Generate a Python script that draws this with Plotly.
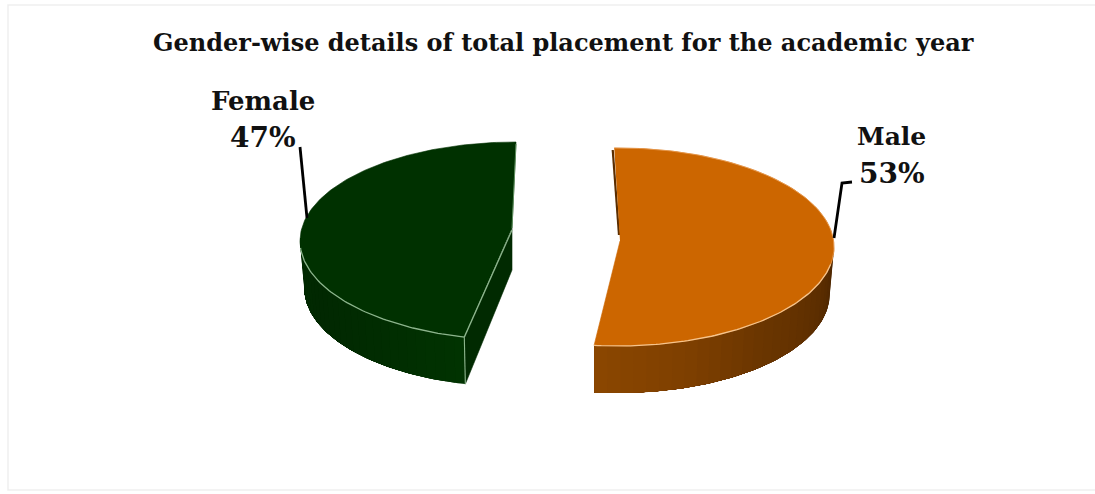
import numpy as np
import plotly.graph_objects as go

# --- data -------------------------------------------------------------
categories = ["Male", "Female"]
shares = [53, 47]
title_text = "Gender-wise details of total placement for the academic year"

# --- geometry / style -------------------------------------------------
W, H = 1095, 494
RX, RY, DEPTH = 216.0, 99.0, 47.0
BOTTOM_RX_SCALE = 0.98      # lower rim is a little narrower (perspective)
SPAN_SCALE = 0.982          # reference's perspective slightly shrinks the spans
SERIF = "DejaVu Serif"

male_center = (618.0, 247.0)
male_apex = (620.0, 241.0)
female_center = (516.0, 241.0)
female_apex = (512.0, 228.0)

male_top = "#CC6600"
male_edge = "#F6C48C"
female_top = "#003100"
female_edge = "#8DB58D"

fig = go.Figure()


def ell(center, t_deg, dy=0.0, sx=1.0):
    t = np.radians(np.asarray(t_deg, dtype=float))
    return center[0] + RX * sx * np.sin(t), center[1] - RY * np.cos(t) + dy


def poly(x, y, color, lw=0.6):
    fig.add_trace(go.Scatter(
        x=list(x), y=list(y), mode="lines", fill="toself", fillcolor=color,
        line=dict(color=color, width=lw), hoverinfo="skip", showlegend=False))


def line(x, y, color, width):
    fig.add_trace(go.Scatter(
        x=list(x), y=list(y), mode="lines", line=dict(color=color, width=width),
        hoverinfo="skip", showlegend=False))


def mix(c1, c2, f):
    a = [int(c1[i:i + 2], 16) for i in (1, 3, 5)]
    b = [int(c2[i:i + 2], 16) for i in (1, 3, 5)]
    return "#%02x%02x%02x" % tuple(int(round(p + (q - p) * f)) for p, q in zip(a, b))


def wall(center, t0, t1, stops, steps=28):
    # each band runs to the far end of the wall, so later bands overlap it and no seams show
    edges = np.linspace(t0, t1, steps + 1)
    for i in range(steps):
        ts = np.linspace(edges[i], t1, max(6, (steps - i) * 4))
        x, y = ell(center, ts)
        xb, yb = ell(center, ts, DEPTH, BOTTOM_RX_SCALE)
        f = i / (steps - 1) * (len(stops) - 1)
        k = min(int(f), len(stops) - 2)
        col = mix(stops[k], stops[k + 1], f - k)
        poly(np.r_[x, xb[::-1]], np.r_[y, yb[::-1]], col, lw=0)


# --- slice angles come from the values --------------------------------
male_span = shares[0] / sum(shares) * 360 * SPAN_SCALE
female_span = shares[1] / sum(shares) * 360 * SPAN_SCALE
male_t0 = -1.0
male_t1 = male_t0 + male_span
female_t1 = 360.0
female_t0 = female_t1 - female_span

# frame
fig.add_shape(type="rect", x0=8, x1=1096, y0=5, y1=490,
              line=dict(color="#EFEFEF", width=1.5), fillcolor="white", layer="below")

# --- Male slice -------------------------------------------------------
wall(male_center, 88, male_t1, ["#4A2500", "#5E2F00", "#6A3500", "#7E3F00", "#8A4600"])
mx, my = ell(male_center, np.linspace(male_t0, male_t1, 160))
# narrow back wall behind the cut edge
line([mx[0] - 1.5, male_apex[0] - 1], [my[0] + 2, male_apex[1] - 6], "#5A2D00", 2.2)
poly(np.r_[mx, male_apex[0]], np.r_[my, male_apex[1]], male_top)
fx, fy = ell(male_center, np.linspace(100, male_t1, 90))
line(fx, fy, male_edge, 1.3)
ox, oy = ell(male_center, np.linspace(male_t0, 100, 80))
line(ox, oy, "#E89A50", 0.8)

# --- Female slice -----------------------------------------------------
wall(female_center, female_t0, 272, ["#013301", "#012C01", "#012801", "#012A01"])
fex, fey = ell(female_center, [female_t0], DEPTH, BOTTOM_RX_SCALE)
fsx, fsy = ell(female_center, [female_t0])
poly([female_apex[0], female_apex[0], fex[0], fsx[0]],
     [female_apex[1], female_apex[1] + 42, fey[0], fsy[0]], "#012A01")
gx, gy = ell(female_center, np.linspace(female_t0, female_t1, 160))
poly(np.r_[gx, female_apex[0]], np.r_[gy, female_apex[1]], female_top)
hx, hy = ell(female_center, np.linspace(female_t0, 266, 70))
line(hx, hy, female_edge, 1.3)
line([fsx[0], female_apex[0]], [fsy[0], female_apex[1] + 2], female_edge, 1.3)
line([fsx[0], fex[0]], [fsy[0], fey[0]], female_edge, 1.1)
line([gx[-1], female_apex[0]], [gy[-1] + 2, female_apex[1]], "#5F8F5F", 1.0)

# --- leader lines -----------------------------------------------------
line([852, 842, 834], [182, 183, 238], "#000000", 2.8)
line([300, 307], [147, 218], "#000000", 2.8)

# --- text -------------------------------------------------------------
TEXT = "#111111"
fig.add_annotation(x=563, y=42, text=f"<b>{title_text}</b>", showarrow=False,
                   font=dict(family=SERIF, size=24, color=TEXT),
                   xanchor="center", yanchor="middle")
fig.add_annotation(x=891, y=136, text=f"<b>{categories[0]}</b>", showarrow=False,
                   font=dict(family=SERIF, size=25, color=TEXT))
fig.add_annotation(x=892, y=173, text=f"<b>{shares[0]}%</b>", showarrow=False,
                   font=dict(family=SERIF, size=28, color=TEXT))
fig.add_annotation(x=263, y=101, text=f"<b>{categories[1]}</b>", showarrow=False,
                   font=dict(family=SERIF, size=26, color=TEXT))
fig.add_annotation(x=263, y=137, text=f"<b>{shares[1]}%</b>", showarrow=False,
                   font=dict(family=SERIF, size=28, color=TEXT))

fig.update_layout(
    width=W, height=H, margin=dict(l=0, r=0, t=0, b=0),
    paper_bgcolor="white", plot_bgcolor="white", showlegend=False,
    xaxis=dict(range=[0, W], visible=False, fixedrange=True),
    yaxis=dict(range=[H, 0], visible=False, fixedrange=True),
)
fig.write_html("out.html", config={"displayModeBar": False},
               post_script="document.body.style.margin='0';document.body.style.overflow='hidden';")
